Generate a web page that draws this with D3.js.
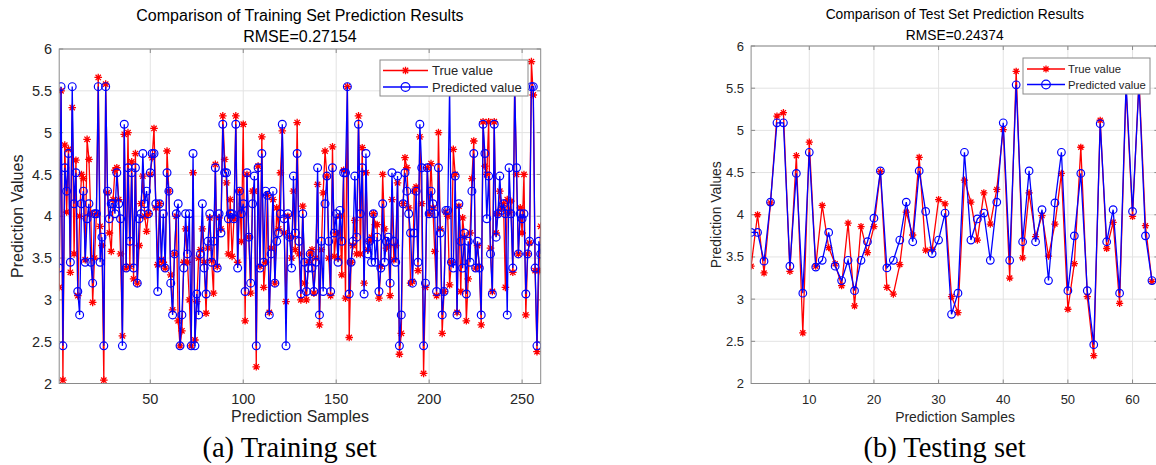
<!DOCTYPE html>
<html>
<head>
  <meta charset="utf-8">
  <title>Prediction Results Comparison</title>
  <script src="https://d3js.org/d3.v7.min.js"></script>
  <style>
    body { margin: 0; background: #fff; }
    svg { display: block; }
    .tick-label { font-family: "Liberation Sans", Arial, sans-serif; fill: #262626; }
    .title { font-family: "Liberation Sans", Arial, sans-serif; fill: #000; }
    .axis-label { font-family: "Liberation Sans", Arial, sans-serif; fill: #262626; }
    .caption { font-family: "Liberation Serif", "Times New Roman", serif; fill: #000; }
    .grid { stroke: #e3e3e3; stroke-width: 1; }
    .box { fill: none; stroke: #8a8a8a; stroke-width: 1; }
    .true-line { fill: none; stroke: #ff0000; stroke-width: 1.3; }
    .pred-line { fill: none; stroke: #0000ff; stroke-width: 1.3; }
    .star { fill: none; stroke: #ff0000; stroke-width: 1.3; }
    .circle { fill: none; stroke: #0000ff; stroke-width: 1.2; }
  </style>
</head>
<body>
  <svg id="chart" width="1156" height="465"></svg>

  <script>
    // Training set (260 samples)
    const trainTrue = [
      3.15, 5.5, 2.04, 4.85, 4.05, 4.8, 3.33, 5.3, 3.55, 4.67,
      3.05, 4.0, 4.5, 4.45, 3.48, 4.92, 4.68, 4.03, 2.97, 3.5,
      4.03, 5.66, 3.88, 3.65, 2.04, 5.58, 4.28, 3.8, 3.58, 4.2,
      4.55, 4.58, 4.2, 3.55, 2.57, 4.98, 3.38, 5.0, 3.4, 4.65,
      3.25, 4.75, 3.2, 3.65, 4.15, 4.48, 4.0, 3.82, 4.03, 4.5,
      4.7, 5.05, 4.1, 3.42, 4.15, 3.48, 3.45, 3.38, 4.78, 4.3,
      3.3, 2.88, 3.55, 4.0, 2.75, 2.45, 2.63, 3.45, 3.85, 3.45,
      3.0, 2.45, 4.52, 2.52, 2.98, 3.5, 3.6, 3.85, 3.45, 2.84,
      3.62, 3.98, 3.47, 3.08, 4.62, 3.4, 3.98, 3.85, 5.2, 4.68,
      4.4, 3.55, 4.2, 3.52, 3.97, 5.2, 3.45, 4.3, 3.7, 5.1,
      2.75, 4.5, 3.75, 3.08, 4.3, 4.3, 2.2, 4.6, 3.4, 4.95,
      3.15, 3.45, 4.25, 2.85, 3.62, 4.2, 3.2, 4.1, 3.85, 4.52,
      5.02, 3.8, 2.98, 4.0, 3.75, 3.5, 4.3, 3.6, 5.12, 3.55,
      3.0, 4.12, 3.2, 3.0, 3.45, 3.55, 3.6, 3.08, 3.5, 4.38,
      2.7, 3.6, 4.28, 4.78, 4.48, 3.5, 3.05, 4.83, 3.52, 3.8,
      3.5, 4.0, 3.3, 4.55, 3.02, 5.55, 2.55, 3.45, 3.65, 3.95,
      3.55, 5.2, 3.55, 4.82, 3.2, 4.52, 3.6, 3.7, 3.75, 4.03,
      3.9, 3.9, 3.02, 3.4, 4.5, 3.85, 3.62, 3.65, 3.05, 4.2,
      3.48, 3.65, 4.4, 2.35, 2.6, 4.15, 4.7, 4.58, 4.1, 3.2,
      3.22, 4.3, 4.35, 3.35, 4.95, 4.15, 2.12, 3.15, 4.58, 4.03,
      4.63, 4.1, 3.58, 3.05, 5.0, 3.85, 2.6, 3.1, 4.05, 4.0,
      3.18, 3.45, 4.8, 4.5, 2.85, 4.12, 3.1, 3.98, 3.75, 2.75,
      3.25, 3.8, 4.45, 4.9, 3.38, 3.65, 3.4, 2.7, 5.13, 4.6,
      4.5, 5.13, 3.62, 3.1, 5.13, 3.8, 4.03, 4.3, 4.1, 4.15,
      3.15, 4.2, 4.05, 4.18, 3.33, 5.55, 4.5, 3.55, 4.1, 3.8,
      4.5, 2.82, 3.55, 3.68, 5.85, 5.45, 3.35, 2.38, 3.35, 3.88
    ];
    const trainPred = [
      3.38, 5.55, 2.45, 4.58, 4.3, 4.75, 3.45, 5.55, 4.15, 4.52,
      3.1, 2.82, 4.15, 4.3, 3.45, 3.97, 4.15, 3.45, 3.2, 4.03,
      4.03, 5.55, 3.45, 3.75, 2.45, 5.55, 4.3, 3.97, 4.15, 4.15,
      4.03, 4.52, 4.15, 3.97, 2.45, 5.1, 3.38, 4.58, 3.7, 4.52,
      3.38, 4.58, 3.2, 3.97, 4.03, 4.75, 4.15, 4.3, 4.03, 4.52,
      4.75, 4.75, 4.15, 3.1, 4.15, 3.45, 4.03, 3.38, 4.52, 4.3,
      3.2, 2.82, 3.55, 4.03, 4.15, 2.45, 2.82, 3.38, 4.03, 3.55,
      4.03, 2.45, 4.75, 2.45, 3.07, 2.82, 3.55, 4.15, 3.38, 3.07,
      3.7, 4.03, 3.45, 3.7, 4.58, 3.38, 4.03, 3.8, 5.1, 4.52,
      4.52, 3.97, 4.03, 4.03, 3.97, 5.1, 3.38, 4.3, 4.03, 4.15,
      3.1, 4.52, 3.75, 3.2, 4.15, 4.48, 2.45, 4.58, 3.38, 4.75,
      3.45, 4.3, 4.25, 2.82, 3.55, 4.3, 3.2, 3.7, 3.8, 4.03,
      5.1, 3.97, 2.45, 4.03, 3.75, 3.38, 4.48, 3.8, 4.75, 3.7,
      3.07, 4.03, 3.45, 3.1, 3.38, 3.55, 3.38, 3.1, 3.45, 4.58,
      2.82, 3.7, 3.1, 4.15, 4.48, 3.7, 3.1, 4.58, 3.8, 4.03,
      3.45, 4.07, 3.7, 4.52, 4.52, 5.55, 3.07, 3.45, 3.7, 4.48,
      3.75, 5.1, 4.03, 4.58, 3.07, 4.75, 3.55, 3.7, 3.45, 4.03,
      3.45, 3.75, 3.1, 3.38, 4.15, 3.45, 3.7, 3.75, 3.2, 4.52,
      3.7, 3.45, 4.48, 2.45, 2.82, 4.15, 4.52, 4.3, 4.03, 3.8,
      3.2, 3.8, 4.3, 3.45, 5.1, 4.58, 2.45, 3.2, 4.58, 4.03,
      4.3, 4.15, 4.03, 3.1, 4.58, 3.8, 2.82, 3.1, 4.07, 4.07,
      5.55, 3.45, 3.38, 4.48, 2.82, 4.15, 3.7, 3.38, 3.8, 3.07,
      3.7, 3.45, 4.3, 4.75, 3.38, 3.7, 3.38, 2.82, 5.1, 4.75,
      3.97, 4.48, 3.55, 3.07, 5.1, 3.75, 4.03, 4.48, 4.07, 4.15,
      4.03, 2.82, 4.58, 4.03, 3.38, 5.55, 4.58, 3.55, 4.03, 3.97,
      4.03, 3.07, 3.55, 3.7, 5.55, 5.55, 3.38, 2.45, 3.7, 3.55
    ];

    // Test set (63 samples visible)
    const testTrue = [
      3.39, 4.0, 3.31, 4.14, 5.17, 5.21, 3.33, 4.7, 2.6, 4.86,
      3.39, 4.11, 3.61, 3.42, 3.16, 3.9, 2.92, 3.86, 3.55, 3.86,
      4.51, 3.14, 3.06, 3.41, 4.03, 3.76, 4.68, 3.58, 3.59, 4.18,
      4.13, 3.03, 2.84, 4.41, 4.15, 3.7, 4.26, 3.89, 4.3, 5.01,
      3.25, 5.7, 3.49, 4.26, 3.74, 3.99, 3.51, 3.89, 4.49, 2.88,
      3.42, 4.8, 3.03, 2.33, 5.12, 3.6, 3.91, 2.95, 5.5, 3.98,
      5.6, 3.87, 3.21
    ];
    const testPred = [
      3.79, 3.79, 3.45, 4.15, 5.09, 5.09, 3.39, 4.49, 3.07, 4.74,
      3.38, 3.46, 3.79, 3.39, 3.22, 3.46, 3.1, 3.46, 3.68, 3.96,
      4.52, 3.37, 3.46, 3.7, 4.15, 3.68, 4.52, 4.04, 3.54, 3.7,
      4.02, 2.82, 3.07, 4.74, 3.7, 3.95, 4.02, 3.46, 4.15, 5.09,
      3.46, 5.54, 3.68, 4.52, 3.68, 4.06, 3.22, 4.14, 4.74, 3.1,
      3.75, 4.49, 3.1, 2.46, 5.08, 3.68, 4.06, 3.07, 5.55, 4.04,
      5.55, 3.75, 3.22
    ];

    const yTicks = [2, 2.5, 3, 3.5, 4, 4.5, 5, 5.5, 6];
    const trainXTicks = [50, 100, 150, 200, 250];
    const testXTicks = [10, 20, 30, 40, 50, 60];

    const svg = d3.select("#chart");

    // MATLAB-style '*' marker: plus + cross
    function starPath(x, y, r) {
      const d = r * 0.7071;
      return `M${x - r},${y}L${x + r},${y}M${x},${y - r}L${x},${y + r}` +
        `M${x - d},${y - d}L${x + d},${y + d}M${x - d},${y + d}L${x + d},${y - d}`;
    }

    function drawPanel(cfg) {
      const g = svg.append("g");
      const x = d3.scaleLinear().domain(cfg.xDomain).range([cfg.left, cfg.right]);
      const y = d3.scaleLinear().domain([2, 6]).range([cfg.bottom, cfg.top]);
      const fs = cfg.fontSize;

      const clipId = "clip-" + cfg.id;
      svg.append("clipPath").attr("id", clipId)
        .append("rect")
        .attr("x", cfg.left).attr("y", cfg.top)
        .attr("width", cfg.right - cfg.left).attr("height", cfg.bottom - cfg.top);

      // grid
      g.selectAll(".gx").data(cfg.xTicks).enter().append("line")
        .attr("class", "grid")
        .attr("x1", d => x(d)).attr("x2", d => x(d))
        .attr("y1", cfg.top).attr("y2", cfg.bottom);
      g.selectAll(".gy").data(yTicks).enter().append("line")
        .attr("class", "grid")
        .attr("x1", cfg.left).attr("x2", cfg.right)
        .attr("y1", d => y(d)).attr("y2", d => y(d));

      // tick marks (inside)
      g.selectAll(".tx").data(cfg.xTicks).enter().append("path")
        .attr("stroke", "#8a8a8a").attr("fill", "none")
        .attr("d", d => `M${x(d)},${cfg.bottom}v-4M${x(d)},${cfg.top}v4`);
      g.selectAll(".ty").data(yTicks).enter().append("path")
        .attr("stroke", "#8a8a8a").attr("fill", "none")
        .attr("d", d => `M${cfg.left},${y(d)}h4M${cfg.right},${y(d)}h-4`);

      // lines and markers
      const plot = g.append("g").attr("clip-path", `url(#${clipId})`);
      const line = d3.line().x((d, i) => x(i + 1)).y(d => y(d));
      plot.append("path").attr("class", "true-line").attr("d", line(cfg.trueVals));
      plot.selectAll(".star").data(cfg.trueVals).enter().append("path")
        .attr("class", "star")
        .attr("d", (d, i) => starPath(x(i + 1), y(d), cfg.starR));
      plot.append("path").attr("class", "pred-line").attr("d", line(cfg.predVals));
      plot.selectAll(".circle").data(cfg.predVals).enter().append("circle")
        .attr("class", "circle")
        .attr("cx", (d, i) => x(i + 1)).attr("cy", d => y(d))
        .attr("r", cfg.circleR);

      // box
      g.append("rect").attr("class", "box")
        .attr("x", cfg.left).attr("y", cfg.top)
        .attr("width", cfg.right - cfg.left).attr("height", cfg.bottom - cfg.top);

      // tick labels
      g.selectAll(".xl").data(cfg.xTicks).enter().append("text")
        .attr("class", "tick-label")
        .attr("x", d => x(d)).attr("y", cfg.bottom + 20)
        .attr("text-anchor", "middle").attr("font-size", fs)
        .text(d => d);
      g.selectAll(".yl").data(yTicks).enter().append("text")
        .attr("class", "tick-label")
        .attr("x", cfg.left - 7).attr("y", d => y(d) + fs * 0.35)
        .attr("text-anchor", "end").attr("font-size", fs)
        .text(d => d);

      // axis labels
      const cx = (cfg.left + cfg.right) / 2;
      g.append("text").attr("class", "axis-label")
        .attr("x", cfg.xLabelX).attr("y", 422)
        .attr("text-anchor", "middle").attr("font-size", cfg.labelSize)
        .text("Prediction Samples");
      g.append("text").attr("class", "axis-label")
        .attr("transform", `translate(${cfg.yLabelX},${(cfg.top + cfg.bottom) / 2}) rotate(-90)`)
        .attr("text-anchor", "middle").attr("font-size", cfg.labelSize)
        .text("Prediction Values");

      // title
      g.append("text").attr("class", "title")
        .attr("x", cx).attr("y", cfg.titleY)
        .attr("text-anchor", "middle").attr("font-size", cfg.titleSize)
        .text(cfg.title);
      g.append("text").attr("class", "title")
        .attr("x", cx).attr("y", cfg.titleY + cfg.titleGap)
        .attr("text-anchor", "middle").attr("font-size", cfg.titleSize)
        .text(cfg.rmse);

      // legend
      const lg = cfg.legend;
      g.append("rect")
        .attr("x", lg.x).attr("y", lg.y).attr("width", lg.w).attr("height", lg.h)
        .attr("fill", "#fff").attr("stroke", "#8a8a8a");
      const items = [
        { name: "True value", cls: "true-line", marker: "star" },
        { name: "Predicted value", cls: "pred-line", marker: "circle" }
      ];
      items.forEach((it, k) => {
        const yy = lg.y + lg.rowY[k];
        g.append("line").attr("class", it.cls)
          .attr("x1", lg.x + lg.lineX[0]).attr("x2", lg.x + lg.lineX[1])
          .attr("y1", yy).attr("y2", yy);
        const mx = lg.x + (lg.lineX[0] + lg.lineX[1]) / 2;
        if (it.marker === "star") {
          g.append("path").attr("class", "star").attr("d", starPath(mx, yy, cfg.starR));
        } else {
          g.append("circle").attr("class", "circle")
            .attr("cx", mx).attr("cy", yy).attr("r", cfg.circleR + 0.5);
        }
        g.append("text").attr("class", "tick-label")
          .attr("x", lg.x + lg.textX).attr("y", yy + lg.fs * 0.36)
          .attr("font-size", lg.fs)
          .text(it.name);
      });

      // caption
      svg.append("text").attr("class", "caption")
        .attr("x", cfg.captionX).attr("y", 457)
        .attr("text-anchor", "middle").attr("font-size", 28.5)
        .text(cfg.caption);
    }

    drawPanel({
      id: "train",
      xDomain: [1, 260], xTicks: trainXTicks,
      left: 59.2, right: 540.7, top: 49, bottom: 383.5,
      trueVals: trainTrue, predVals: trainPred,
      fontSize: 14.5, labelSize: 16, titleSize: 16,
      starR: 3.8, circleR: 3.9,
      title: "Comparison of Training Set Prediction Results",
      rmse: "RMSE=0.27154", titleY: 21, titleGap: 20.5,
      xLabelX: 300, yLabelX: 23,
      legend: { x: 380, y: 60, w: 148, h: 36, rowY: [10.5, 27], lineX: [3, 48], textX: 52, fs: 13 },
      caption: "(a) Training set", captionX: 289.5
    });

    drawPanel({
      id: "test",
      xDomain: [1, 64], xTicks: testXTicks,
      left: 751.1, right: 1158.4, top: 46, bottom: 383.5,
      trueVals: testTrue, predVals: testPred,
      fontSize: 13, labelSize: 13.9, titleSize: 13.8,
      starR: 3.6, circleR: 3.8,
      title: "Comparison of Test Set Prediction Results",
      rmse: "RMSE=0.24374", titleY: 18.5, titleGap: 21,
      xLabelX: 955, yLabelX: 721,
      legend: { x: 1023, y: 58, w: 127, h: 36, rowY: [11, 26.5], lineX: [4, 42], textX: 45, fs: 11.3 },
      caption: "(b) Testing set", captionX: 944.5
    });
  </script>
</body>
</html>
